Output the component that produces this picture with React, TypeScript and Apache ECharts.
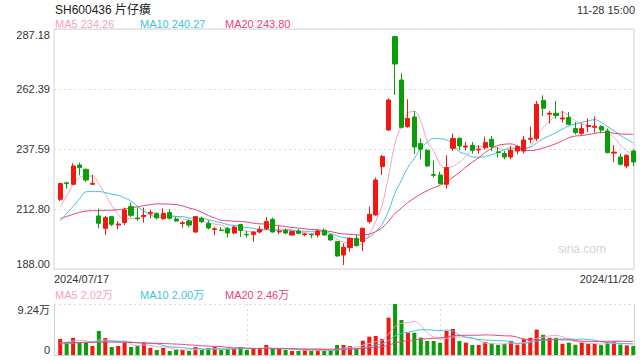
import React, { useEffect, useRef } from 'react';
import * as echarts from 'echarts';

const dates = [
  '07/17','07/18','07/19','07/22','07/23','07/24','07/25','07/26','07/29','07/30','07/31',
  '08/01','08/02','08/05','08/06','08/07','08/08','08/09','08/12','08/13','08/14','08/15','08/16','08/19','08/20','08/21','08/22','08/23','08/26','08/27','08/28','08/29','08/30',
  '09/02','09/03','09/04','09/05','09/06','09/09','09/10','09/11','09/12','09/13','09/18','09/19','09/20','09/23','09/24','09/25','09/26','09/27','09/30',
  '10/08','10/09','10/10','10/11','10/14','10/15','10/16','10/17','10/18','10/21','10/22','10/23','10/24','10/25','10/28','10/29','10/30','10/31',
  '11/01','11/04','11/05','11/06','11/07','11/08','11/11','11/12','11/13','11/14','11/15','11/18','11/19','11/20','11/21','11/22','11/25','11/26','11/27','11/28'
];

// [open, close, low, high]
const candles = [
  [216.8, 223.29, 216.1, 223.7],
  [223.6, 223.3, 221.23, 224.12],
  [223.0, 230.56, 222.71, 231.67],
  [230.97, 229.9, 226.72, 231.97],
  [229.2, 224.78, 223.95, 229.49],
  [223.0, 223.4, 222.7, 227.0],
  [209.9, 206.89, 204.82, 212.96],
  [204.82, 209.23, 202.05, 209.9],
  [209.65, 206.47, 205.76, 209.9],
  [206.2, 206.6, 204.4, 207.8],
  [207.17, 212.38, 206.18, 213.37],
  [213.78, 210.19, 209.49, 215.44],
  [209.1, 208.8, 207.83, 213.37],
  [209.7, 210.1, 207.17, 213.37],
  [211.0, 211.4, 208.95, 212.38],
  [211.0, 209.2, 208.5, 211.3],
  [208.8, 211.0, 208.3, 213.1],
  [211.3, 208.95, 208.5, 212.66],
  [208.66, 207.83, 207.58, 209.49],
  [206.8, 207.1, 205.1, 207.83],
  [207.83, 206.18, 205.3, 208.4],
  [203.29, 209.65, 202.9, 209.9],
  [208.95, 207.58, 207.0, 209.65],
  [206.76, 204.94, 204.4, 208.12],
  [204.3, 204.6, 201.92, 205.35],
  [204.1, 203.9, 203.7, 205.35],
  [204.69, 202.87, 200.97, 205.35],
  [202.87, 205.35, 202.33, 205.93],
  [206.34, 203.99, 201.22, 206.76],
  [202.3, 202.1, 200.97, 203.7],
  [202.33, 203.16, 199.32, 203.7],
  [203.29, 204.4, 202.7, 205.76],
  [204.69, 207.58, 204.1, 209.49],
  [208.53, 203.29, 203.0, 209.23],
  [203.3, 203.6, 202.33, 205.76],
  [203.99, 202.87, 202.33, 204.8],
  [202.05, 203.45, 201.9, 203.6],
  [203.7, 202.74, 202.3, 204.5],
  [202.2, 202.5, 201.5, 202.9],
  [202.3, 202.1, 200.7, 202.7],
  [202.05, 203.7, 200.97, 204.3],
  [203.99, 202.05, 201.8, 204.8],
  [202.05, 199.98, 199.7, 202.5],
  [199.32, 193.37, 193.1, 199.6],
  [193.78, 196.97, 189.65, 198.62],
  [196.84, 200.68, 195.19, 200.97],
  [200.68, 197.67, 197.2, 202.33],
  [199.32, 204.82, 195.44, 205.1],
  [207.58, 210.6, 206.89, 213.78],
  [210.31, 224.78, 210.1, 225.77],
  [230.31, 234.45, 226.84, 235.11],
  [245.44, 257.83, 245.0, 258.54],
  [284.03, 272.71, 259.9, 284.45],
  [266.1, 246.55, 246.1, 268.87],
  [246.84, 250.15, 246.4, 258.13],
  [250.81, 238.41, 235.4, 253.29],
  [239.82, 237.46, 233.33, 242.01],
  [237.05, 230.56, 230.15, 237.46],
  [227.0, 226.7, 225.77, 232.92],
  [226.84, 223.29, 223.0, 228.2],
  [223.0, 229.9, 221.22, 234.98],
  [237.88, 241.88, 236.76, 243.95],
  [242.01, 238.83, 237.05, 242.3],
  [238.4, 238.8, 237.05, 240.48],
  [239.12, 237.05, 235.69, 240.48],
  [237.2, 237.5, 235.7, 239.1],
  [238.17, 240.23, 237.46, 242.71],
  [241.6, 238.58, 236.76, 242.96],
  [236.4, 236.1, 234.03, 238.41],
  [235.69, 234.28, 233.33, 236.76],
  [234.28, 237.05, 233.33, 238.83],
  [236.76, 238.58, 235.4, 239.12],
  [236.76, 241.31, 235.81, 242.96],
  [241.6, 242.0, 239.94, 246.84],
  [241.88, 256.06, 240.89, 257.42],
  [257.71, 254.41, 251.22, 259.78],
  [252.0, 252.4, 248.08, 253.29],
  [252.34, 251.39, 250.15, 257.42],
  [250.0, 250.4, 248.5, 253.29],
  [250.56, 247.79, 247.38, 252.88],
  [246.02, 244.36, 243.66, 248.74],
  [244.07, 246.02, 243.37, 248.21],
  [246.9, 247.3, 244.61, 250.27],
  [246.6, 247.0, 244.36, 250.98],
  [246.84, 245.44, 244.07, 247.4],
  [245.03, 236.1, 235.8, 246.02],
  [235.9, 236.3, 232.22, 239.12],
  [234.28, 231.26, 230.8, 235.7],
  [230.56, 234.98, 229.61, 235.4],
  [236.76, 232.22, 230.56, 237.46]
];

const volumes = [
  29000, 23550, 30800, 23550, 22300, 16300, 43500, 30800, 14500, 16300,
  22300, 14500, 16300, 22300, 12700, 9060, 12700, 7250, 9060, 9060,
  7250, 14500, 9060, 12700, 14500, 9060, 10900, 12700, 14500, 9060,
  10900, 10900, 18100, 10900, 10900, 9060, 7250, 7250, 9060, 7250,
  9060, 7800, 9060, 18100, 18100, 16300, 10900, 25900, 33200, 34400,
  29000, 67600, 92400, 63400, 40400, 40400, 31400, 25400, 25400, 22300,
  43500, 47100, 25400, 22300, 18100, 18100, 23550, 21100, 18100, 19900,
  25800, 18500, 28800, 31200, 46000, 36700, 31200, 31200, 20300, 22300,
  18500, 22500, 20000, 20000, 18000, 23500, 24500, 19000, 17500, 16500
];

// moving-average values before a full window exists
const ma5Head = [213.8, 218.2, 223.0, 225.8];
const ma10Head = [207.8, 210.9, 213.9, 217.0, 219.9, 220.0, 220.0, 219.6, 218.9];
const ma20Head = [208.8, 209.7, 210.6, 211.4, 211.9, 212.1, 212.1, 212.2, 212.3, 212.5, 212.8, 213.2, 213.7, 214.2, 214.6, 214.9, 214.9, 214.8, 214.6];
const volMa5Head = [21200, 23000, 25500, 26500];
const volMa10Head = [19900, 20700, 21500, 22300, 23000, 23700, 24400, 25000, 25500];
const volMa20Head = [22000, 22200, 22400, 22600, 22800, 23000, 23200, 23300, 23300, 23200, 23000, 22700, 22300, 21900, 21500, 21100, 20700, 20300, 19800];

const priceTickLabels = ['188.00', '212.80', '237.59', '262.39', '287.18'];
const volTickLabels = ['0', '9.24万'];
const priceMin = 188.0;
const priceMax = 287.18;
const volMax = 92400;

const title = 'SH600436 片仔癀';
const timeText = '11-28 15:00';
const maTexts = ['MA5 234.26', 'MA10 240.27', 'MA20 243.80'];
const volMaTexts = ['MA5 2.02万', 'MA10 2.00万', 'MA20 2.46万'];

const UP = '#f3170f';
const DOWN = '#0a9e0a';
const C_MA5 = '#f7a1bd';
const C_MA10 = '#3dc3df';
const C_MA20 = '#e8427b';
const BORDER = '#d2d2d2';
const GRIDLINE = '#dcdcdc';
const FONT = '"Liberation Sans", Arial, "Noto Sans CJK SC", sans-serif';

function movingAvg(values: number[], n: number, head: number[]) {
  return values.map((_, i) => {
    if (i < n - 1) return head[i];
    let s = 0;
    for (let k = i - n + 1; k <= i; k++) s += values[k];
    return +(s / n).toFixed(2);
  });
}

export default function App() {
  const ref = useRef<HTMLDivElement>(null);
  useEffect(() => {
    document.body.style.margin = '0';
    const chart = echarts.init(ref.current!, null, { renderer: 'svg' });
    const closes = candles.map((c) => c[1]);
    const ma5 = movingAvg(closes, 5, ma5Head);
    const ma10 = movingAvg(closes, 10, ma10Head);
    const ma20 = movingAvg(closes, 20, ma20Head);
    const vma5 = movingAvg(volumes, 5, volMa5Head);
    const vma10 = movingAvg(volumes, 10, volMa10Head);
    const vma20 = movingAvg(volumes, 20, volMa20Head);
    const last = dates.length - 1;

    const lineS = (data: number[], color: string, xi: number, yi: number) => ({
      type: 'line',
      data,
      xAxisIndex: xi,
      yAxisIndex: yi,
      showSymbol: false,
      smooth: 0.4,
      lineStyle: { color, width: 1 },
      itemStyle: { color },
      silent: true,
      z: 3,
    });

    const txt = (text: string, x: number, y: number, color: string, size: number, align = 'left') => ({
      type: 'text',
      x,
      y,
      style: {
        text,
        fill: color,
        font: `${size}px ${FONT}`,
        textAlign: align,
        align,
        textVerticalAlign: 'middle',
        verticalAlign: 'middle',
      },
    });

    const option: any = {
      animation: false,
      textStyle: { fontFamily: FONT },
      grid: [
        { left: 54, right: 6, top: 29, height: 240, show: true, borderColor: BORDER, borderWidth: 1, backgroundColor: 'transparent' },
        { left: 57, right: 3.5, top: 29, height: 240 },
        { left: 54, right: 6, top: 304, height: 51 },
        { left: 57, right: 3.5, top: 304, height: 51 },
      ],
      xAxis: [
        {
          gridIndex: 0, type: 'category', data: dates, boundaryGap: false,
          axisLine: { show: false }, axisTick: { show: false }, splitLine: { show: false },
          axisLabel: {
            interval: (idx: number) => idx === 0 || idx === last,
            formatter: (v: string) => '2024/' + v,
            alignMinLabel: 'left', alignMaxLabel: 'right',
            color: '#333', fontSize: 11, margin: 4,
          },
        },
        { gridIndex: 1, type: 'category', data: dates, boundaryGap: true, show: false },
        {
          gridIndex: 2, type: 'value', min: 0, max: 3, interval: 1,
          axisLabel: { show: false }, axisTick: { show: false },
          axisLine: { show: true, lineStyle: { color: BORDER } },
          splitLine: { show: true, lineStyle: { color: GRIDLINE, type: [2, 3] } },
        },
        { gridIndex: 3, type: 'category', data: dates, boundaryGap: true, show: false },
      ],
      yAxis: [
        {
          gridIndex: 0, type: 'value', min: priceMin, max: priceMax, interval: (priceMax - priceMin) / 4,
          axisLine: { show: false }, axisTick: { show: false },
          axisLabel: {
            formatter: (_: number, i: number) => priceTickLabels[i],
            color: '#333', fontSize: 11, margin: 4,
            verticalAlignMaxLabel: 'top', verticalAlignMinLabel: 'bottom',
          },
          splitLine: { show: true, lineStyle: { color: GRIDLINE, type: [2, 3], width: 1.2 } },
        },
        { gridIndex: 1, type: 'value', min: priceMin, max: priceMax, show: false },
        {
          gridIndex: 2, type: 'value', min: 0, max: volMax, interval: volMax,
          axisLine: { show: true, lineStyle: { color: BORDER } }, axisTick: { show: false },
          axisLabel: {
            formatter: (_: number, i: number) => volTickLabels[i],
            color: '#333', fontSize: 11, margin: 4,
            verticalAlignMaxLabel: 'top', verticalAlignMinLabel: 'bottom',
          },
          splitLine: { show: true, lineStyle: { color: GRIDLINE, type: [2, 3], width: 1.2 } },
        },
        {
          gridIndex: 2, type: 'value', min: 0, max: volMax, position: 'right',
          axisLine: { show: true, lineStyle: { color: BORDER } }, axisTick: { show: false },
          axisLabel: { show: false }, splitLine: { show: false },
        },
        { gridIndex: 3, type: 'value', min: 0, max: volMax, show: false },
      ],
      series: [
        {
          type: 'candlestick',
          xAxisIndex: 1, yAxisIndex: 1,
          data: candles,
          barWidth: 4.6,
          itemStyle: { color: UP, color0: DOWN, borderColor: UP, borderColor0: DOWN, borderWidth: 1 },
          z: 4,
        },
        lineS(ma5, C_MA5, 1, 1),
        lineS(ma10, C_MA10, 1, 1),
        lineS(ma20, C_MA20, 1, 1),
        {
          type: 'bar',
          xAxisIndex: 3, yAxisIndex: 4,
          barWidth: 4,
          data: volumes.map((v, i) => ({
            value: v,
            itemStyle: { color: candles[i][1] >= candles[i][0] ? UP : DOWN },
          })),
          z: 2,
        },
        lineS(vma5, C_MA5, 3, 4),
        lineS(vma10, C_MA10, 3, 4),
        lineS(vma20, C_MA20, 3, 4),
      ],
      graphic: [
        txt(title, 55, 10, '#222', 12),
        txt(timeText, 635, 10, '#333', 11, 'right'),
        txt(maTexts[0], 55, 24, C_MA5, 11),
        txt(maTexts[1], 140, 24, C_MA10, 11),
        txt(maTexts[2], 225, 24, C_MA20, 11),
        txt(volMaTexts[0], 55, 295, C_MA5, 11),
        txt(volMaTexts[1], 140, 295, C_MA10, 11),
        txt(volMaTexts[2], 225, 295, C_MA20, 11),
        txt('sina.com', 582, 249, '#d3d3d3', 12, 'center'),
      ],
    };
    chart.setOption(option);
    return () => chart.dispose();
  }, []);
  return <div ref={ref} style={{ width: 640, height: 360 }} />;
}
